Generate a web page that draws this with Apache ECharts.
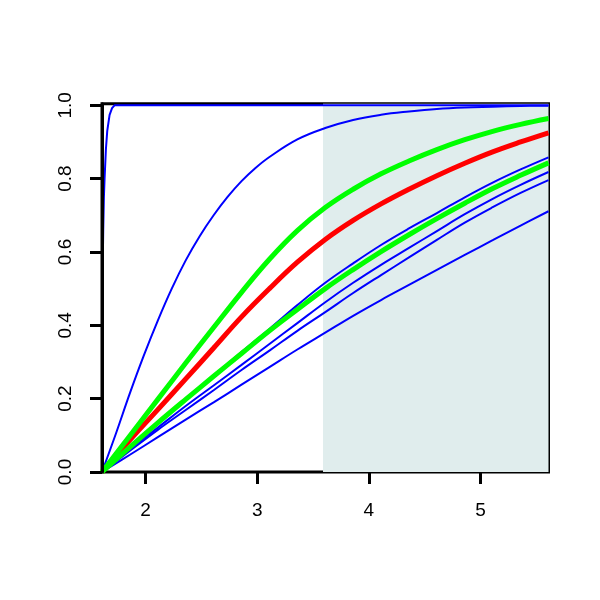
<!DOCTYPE html>
<html><head><meta charset="utf-8">
<script src="https://cdn.jsdelivr.net/npm/echarts@6/dist/echarts.min.js"></script>
<style>html,body{margin:0;padding:0;background:#fff}#c{width:600px;height:600px}</style>
</head><body><div id="c"></div><script>
const xRange = [1.61, 5.61];
const yRange = [0, 1.004];
const xTicks = [2, 3, 4, 5];
const yTicks = [0, 0.2, 0.4, 0.6, 0.8, 1.0];
const shadeX = [3.59, 5.61];

const xs = [1.61, 1.86, 2.11, 2.36, 2.61, 2.86, 3.11, 3.36, 3.61, 3.86, 4.11, 4.36, 4.61, 4.86, 5.11, 5.36, 5.61];
const redMid     = [0, 0.087, 0.170, 0.254, 0.338, 0.423, 0.500, 0.572, 0.634, 0.686, 0.731, 0.771, 0.808, 0.842, 0.873, 0.900, 0.925];
const greenUpper = [0, 0.099, 0.198, 0.297, 0.394, 0.490, 0.580, 0.658, 0.721, 0.771, 0.813, 0.848, 0.879, 0.906, 0.929, 0.948, 0.964];
const greenLower = [0, 0.068, 0.134, 0.198, 0.261, 0.323, 0.385, 0.443, 0.500, 0.552, 0.601, 0.647, 0.691, 0.733, 0.773, 0.809, 0.843];
const blueB1     = [0, 0.069, 0.136, 0.200, 0.263, 0.327, 0.390, 0.455, 0.516, 0.569, 0.619, 0.664, 0.706, 0.749, 0.789, 0.825, 0.858];
const blueB2     = [0, 0.062, 0.121, 0.180, 0.236, 0.292, 0.349, 0.406, 0.463, 0.516, 0.565, 0.611, 0.657, 0.703, 0.745, 0.783, 0.818];
const blueB3     = [0, 0.058, 0.115, 0.169, 0.223, 0.278, 0.331, 0.385, 0.436, 0.488, 0.537, 0.585, 0.633, 0.680, 0.722, 0.761, 0.796];
const blueB4     = [0, 0.047, 0.095, 0.143, 0.190, 0.238, 0.286, 0.334, 0.380, 0.426, 0.469, 0.510, 0.551, 0.592, 0.632, 0.672, 0.711];

const xsFast   = [1.61, 1.735, 1.86, 1.985, 2.11, 2.235, 2.36, 2.485, 2.61, 2.735, 2.86, 2.985, 3.11, 3.36, 3.61, 3.86, 4.11, 4.36, 4.61, 4.86, 5.11, 5.36, 5.61];
const blueFast = [0, 0.105, 0.215, 0.318, 0.413, 0.500, 0.577, 0.643, 0.700, 0.750, 0.793, 0.829, 0.859, 0.907, 0.938, 0.960, 0.974, 0.983, 0.990, 0.994, 0.996, 0.998, 0.999];

const xsSteep   = [1.61, 1.611, 1.6125, 1.616, 1.621, 1.627, 1.633, 1.645, 1.657, 1.678, 1.70, 1.722, 5.61];
const blueSteep = [0, 0.3, 0.42, 0.55, 0.66, 0.75, 0.8, 0.88, 0.93, 0.974, 0.992, 1.0, 1.0];

const font = 'Liberation Sans, Arial, Helvetica, sans-serif';
const pair = (x, y) => x.map((v, i) => [v, y[i]]);

function curve(data, color, width, sm) {
  return {type:'line', data:data, showSymbol:false, symbol:'none', smooth:sm,
    lineStyle:{color:color, width:width}, silent:true, animation:false, clip:true};
}
const series = [];
series.push({type:'line', data:[], silent:true, z:1, animation:false,
  markArea:{silent:true, itemStyle:{color:'#e0eded', borderWidth:0},
    data:[[{xAxis:shadeX[0], yAxis:yRange[0]},{xAxis:shadeX[1], yAxis:yRange[1]}]]}});
series.push(curve(pair(xsSteep, blueSteep), '#0000ff', 2, false));
series.push(curve(pair(xsFast, blueFast), '#0000ff', 2, 0.4));
[blueB1, blueB2, blueB3, blueB4].forEach(d => series.push(curve(pair(xs, d), '#0000ff', 2, 0.4)));
series.push(curve(pair(xs, redMid), '#ff0000', 5, 0.4));
series.push(curve(pair(xs, greenUpper), '#00ff00', 5, 0.4));
series.push(curve(pair(xs, greenLower), '#00ff00', 5, 0.4));

const chart = echarts.init(document.getElementById('c'), null, {renderer:'canvas'});
chart.setOption({
  animation:false,
  backgroundColor:'#ffffff',
  grid:{left:102, right:51.5, top:103.8, bottom:128, show:true, borderColor:'#000', borderWidth:3, backgroundColor:'transparent'},
  xAxis:{type:'value', min:xRange[0], max:xRange[1], splitLine:{show:false},
    axisLine:{show:false},
    axisTick:{show:true, customValues:xTicks, length:12, lineStyle:{color:'#000', width:3}},
    axisLabel:{customValues:xTicks, margin:29, color:'#000', fontSize:19, fontFamily:font}},
  yAxis:{type:'value', min:yRange[0], max:yRange[1], z:10, splitLine:{show:false},
    axisLine:{show:true, lineStyle:{color:'#000', width:3}},
    axisTick:{show:true, customValues:yTicks, length:12, lineStyle:{color:'#000', width:3}},
    axisLabel:{customValues:yTicks, rotate:90, margin:27, color:'#000', fontSize:19, fontFamily:font,
      formatter:v => v.toFixed(1)}},
  series:series
});
</script></body></html>
